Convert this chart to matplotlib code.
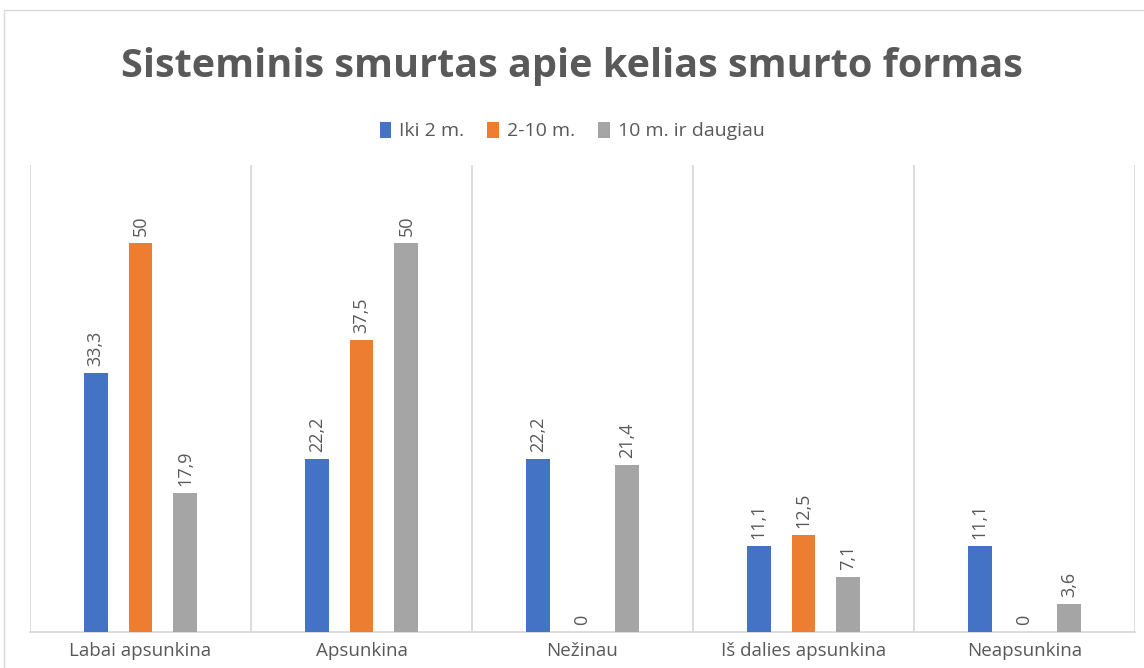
import matplotlib.pyplot as plt
import numpy as np
from matplotlib.patches import Rectangle

categories = ['Labai apsunkina', 'Apsunkina', 'Nežinau', 'Iš dalies apsunkina', 'Neapsunkina']
series = ['Iki 2 m.', '2-10 m.', '10 m. ir daugiau']
iki_2 = [33.3, 22.2, 22.2, 11.1, 11.1]
nuo_2_iki_10 = [50, 37.5, 0, 12.5, 0]
nuo_10 = [17.9, 50, 21.4, 7.1, 3.6]
colors = ['#4472C4', '#ED7D31', '#A5A5A5']

plt.rcParams['font.family'] = ['Open Sans', 'DejaVu Sans']

fig = plt.figure(figsize=(11.44, 6.68), dpi=100)
ax = fig.add_axes([30 / 1144, 36 / 668, 1105 / 1144, 467 / 668])

x = np.arange(len(categories))
width = 0.108
offsets = [-0.203, 0, 0.203]
for vals, off, col, name in zip([iki_2, nuo_2_iki_10, nuo_10], offsets, colors, series):
    bars = ax.bar(x + off, vals, width, color=col, label=name, zorder=3)
    for b, v in zip(bars, vals):
        txt = f'{v:g}'.replace('.', ',')
        ax.annotate(txt, (b.get_x() + b.get_width() / 2, v), xytext=(0, 5),
                    textcoords='offset points', rotation=90, ha='center', va='bottom',
                    fontsize=13, color='#595959')

ax.set_xlim(-0.5, len(categories) - 0.5)
ax.set_ylim(0, 60)
ax.set_yticks([])
ax.set_xticks(x)
ax.set_xticklabels(categories, fontsize=13.5, color='#595959')
ax.tick_params(axis='x', length=0, pad=7)
for xb in np.arange(-0.5, len(categories), 1):
    ax.axvline(xb, color='#D9D9D9', lw=1.3, zorder=1)
for s in ['top', 'left', 'right']:
    ax.spines[s].set_visible(False)
ax.spines['bottom'].set_color('#D9D9D9')
ax.spines['bottom'].set_linewidth(1.3)

fig.text(0.5, 1 - 66 / 668, 'Sisteminis smurtas apie kelias smurto formas', ha='center', va='center',
         fontsize=28.5, fontweight='bold', color='#595959')
fig.legend(loc='center', bbox_to_anchor=(0.5, 1 - 131 / 668), ncol=3, frameon=False,
           fontsize=14, handlelength=0.6, handleheight=0.9, handletextpad=0.4, columnspacing=1.2,
           labelcolor='#595959')

fig.patches.append(Rectangle((4 / 1144, -0.1), 1.2, 1 - 10 / 668 + 0.1, transform=fig.transFigure,
                             fill=False, edgecolor='#D9D9D9', lw=1))

fig.savefig('out.png', dpi=100)
